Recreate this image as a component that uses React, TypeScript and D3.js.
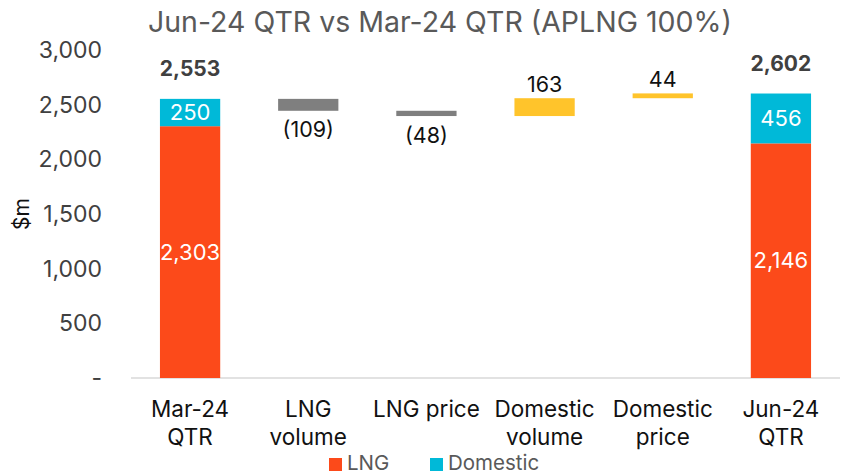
import { scaleBand, scaleLinear, format } from "d3";

const categories = ["Mar-24 QTR", "LNG volume", "LNG price", "Domestic volume", "Domestic price", "Jun-24 QTR"];
const categoryLines = [["Mar-24", "QTR"], ["LNG", "volume"], ["LNG price"], ["Domestic", "volume"], ["Domestic", "price"], ["Jun-24", "QTR"]];
const lngTotals = [2303, null, null, null, null, 2146];
const domesticTotals = [250, null, null, null, null, 456];
const changes = [null, -109, -48, 163, 44, null];
const yTicks = [0, 500, 1000, 1500, 2000, 2500, 3000];

const W = 842;
const H = 474;
const FONT = "Inter, 'Noto Sans', sans-serif";
const ORANGE = "#fc4a1a";
const CYAN = "#00b9d8";
const GREY = "#7f7f7f";
const YELLOW = "#ffc42b";

const fmt = format(",");
const labelFor = (v: number) => (v < 0 ? `(${fmt(-v)})` : fmt(v));

export default function App() {
  const x = scaleBand().domain(categories).range([131, 840]).paddingInner(0.49).paddingOuter(0.245);
  const y = scaleLinear().domain([0, 3000]).range([378, 50]);
  const bw = x.bandwidth();

  // running level for the floating bars
  let level = (lngTotals[0] ?? 0) + (domesticTotals[0] ?? 0);
  const floats = categories.map((c, i) => {
    const d = changes[i];
    if (d == null) return null;
    const start = level;
    level = level + d;
    return { c, d, lo: Math.min(start, level), hi: Math.max(start, level) };
  });

  return (
    <svg width={W} height={H} style={{ position: "absolute", left: 0, top: 0 }} fontFamily={FONT}>
      <rect width={W} height={H} fill="#fff" />
      <text x={148} y={32} fontSize={28.5} fill="#595959">
        Jun-24 QTR vs Mar-24 QTR (APLNG 100%)
      </text>
      {yTicks.map((t) => (
        <text key={t} x={102} y={y(t)} dy="0.35em" textAnchor="end" fontSize={23} fill="#404040">
          {t === 0 ? "-" : fmt(t)}
        </text>
      ))}
      <text transform={`translate(29,214) rotate(-90)`} textAnchor="middle" fontSize={21} fill="#111">
        $m
      </text>
      <line x1={131} x2={840} y1={y(0)} y2={y(0)} stroke="#d9d9d9" strokeWidth={1.5} />
      {categories.map((c, i) => {
        const lng = lngTotals[i];
        const dom = domesticTotals[i];
        if (lng == null || dom == null) return null;
        const x0 = x(c)!;
        const cx = x0 + bw / 2;
        return (
          <g key={c}>
            <rect x={x0} width={bw} y={y(lng)} height={y(0) - y(lng)} fill={ORANGE} />
            <rect x={x0} width={bw} y={y(lng + dom)} height={y(lng) - y(lng + dom)} fill={CYAN} />
            <text x={cx} y={(y(0) + y(lng)) / 2} dy="0.35em" textAnchor="middle" fontSize={22} fill="#fff">
              {fmt(lng)}
            </text>
            <text x={cx} y={(y(lng) + y(lng + dom)) / 2} dy="0.35em" textAnchor="middle" fontSize={22} fill="#fff">
              {fmt(dom)}
            </text>
            <text x={cx} y={y(lng + dom) - 23} textAnchor="middle" fontSize={21} fontWeight={700} fill="#404040">
              {fmt(lng + dom)}
            </text>
          </g>
        );
      })}
      {floats.map((f) => {
        if (!f) return null;
        const x0 = x(f.c)!;
        const cx = x0 + bw / 2;
        return (
          <g key={f.c}>
            <rect x={x0} width={bw} y={y(f.hi)} height={y(f.lo) - y(f.hi)} fill={f.d < 0 ? GREY : YELLOW} />
            <text
              x={cx}
              y={f.d < 0 ? y(f.lo) + 19 : y(f.hi) - 14}
              dy="0.35em"
              textAnchor="middle"
              fontSize={21.5}
              fill="#111"
            >
              {labelFor(f.d)}
            </text>
          </g>
        );
      })}
      {categories.map((c, i) => (
        <text key={c} x={x(c)! + bw / 2} y={417} textAnchor="middle" fontSize={22.5} fill="#111">
          {categoryLines[i].map((l, j) => (
            <tspan key={j} x={x(c)! + bw / 2} dy={j === 0 ? 0 : 28}>
              {l}
            </tspan>
          ))}
        </text>
      ))}
      <g>
        <rect x={329} y={458} width={13} height={13} fill={ORANGE} />
        <text x={347} y={470} fontSize={20.5} fill="#595959">LNG</text>
        <rect x={430} y={458} width={13} height={13} fill={CYAN} />
        <text x={448} y={470} fontSize={20.5} fill="#595959">Domestic</text>
      </g>
    </svg>
  );
}
